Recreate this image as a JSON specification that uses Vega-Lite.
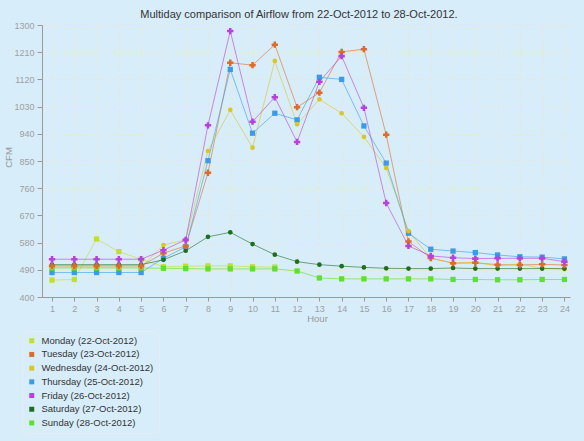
{
  "$schema": "https://vega.github.io/schema/vega-lite/v6.json",
  "autosize": "none",
  "width": 528,
  "height": 272,
  "padding": {"left": 42, "top": 25, "right": 14, "bottom": 144},
  "background": "#d7edfa",
  "title": {"text": "Multiday comparison of Airflow from 22-Oct-2012 to 28-Oct-2012.", "font": "Liberation Sans", "fontSize": 11, "fontWeight": "normal", "color": "#333333", "anchor": "middle", "dx": -7, "offset": 1},
  "config": {
    "view": {"stroke": null},
    "axis": {"labelFont": "Liberation Sans", "titleFont": "Liberation Sans", "labelColor": "#a0a0a0", "titleColor": "#999999", "labelFontSize": 9, "titleFontSize": 9.5, "titleFontWeight": "normal", "domainColor": "#999999", "tickColor": "#999999", "gridColor": "#e9e6da", "gridDash": [4, 3], "gridWidth": 1}
  },
  "data": {"values": [
    {"day": "Monday (22-Oct-2012)", "hour": 1, "cfm": 456}, {"day": "Monday (22-Oct-2012)", "hour": 2, "cfm": 458}, {"day": "Monday (22-Oct-2012)", "hour": 3, "cfm": 592}, {"day": "Monday (22-Oct-2012)", "hour": 4, "cfm": 550}, {"day": "Monday (22-Oct-2012)", "hour": 5, "cfm": 525}, {"day": "Monday (22-Oct-2012)", "hour": 6, "cfm": 500}, {"day": "Monday (22-Oct-2012)", "hour": 7, "cfm": 502}, {"day": "Monday (22-Oct-2012)", "hour": 8, "cfm": 503}, {"day": "Monday (22-Oct-2012)", "hour": 9, "cfm": 503}, {"day": "Monday (22-Oct-2012)", "hour": 10, "cfm": 500}, {"day": "Monday (22-Oct-2012)", "hour": 11, "cfm": 499},
    {"day": "Tuesday (23-Oct-2012)", "hour": 1, "cfm": 503}, {"day": "Tuesday (23-Oct-2012)", "hour": 2, "cfm": 503}, {"day": "Tuesday (23-Oct-2012)", "hour": 3, "cfm": 503}, {"day": "Tuesday (23-Oct-2012)", "hour": 4, "cfm": 503}, {"day": "Tuesday (23-Oct-2012)", "hour": 5, "cfm": 503}, {"day": "Tuesday (23-Oct-2012)", "hour": 6, "cfm": 545}, {"day": "Tuesday (23-Oct-2012)", "hour": 7, "cfm": 569}, {"day": "Tuesday (23-Oct-2012)", "hour": 8, "cfm": 811}, {"day": "Tuesday (23-Oct-2012)", "hour": 9, "cfm": 1175}, {"day": "Tuesday (23-Oct-2012)", "hour": 10, "cfm": 1167}, {"day": "Tuesday (23-Oct-2012)", "hour": 11, "cfm": 1235}, {"day": "Tuesday (23-Oct-2012)", "hour": 12, "cfm": 1028}, {"day": "Tuesday (23-Oct-2012)", "hour": 13, "cfm": 1076}, {"day": "Tuesday (23-Oct-2012)", "hour": 14, "cfm": 1211}, {"day": "Tuesday (23-Oct-2012)", "hour": 15, "cfm": 1220}, {"day": "Tuesday (23-Oct-2012)", "hour": 16, "cfm": 937}, {"day": "Tuesday (23-Oct-2012)", "hour": 17, "cfm": 584}, {"day": "Tuesday (23-Oct-2012)", "hour": 18, "cfm": 529}, {"day": "Tuesday (23-Oct-2012)", "hour": 19, "cfm": 512}, {"day": "Tuesday (23-Oct-2012)", "hour": 20, "cfm": 513}, {"day": "Tuesday (23-Oct-2012)", "hour": 21, "cfm": 507}, {"day": "Tuesday (23-Oct-2012)", "hour": 22, "cfm": 506}, {"day": "Tuesday (23-Oct-2012)", "hour": 23, "cfm": 508}, {"day": "Tuesday (23-Oct-2012)", "hour": 24, "cfm": 506},
    {"day": "Wednesday (24-Oct-2012)", "hour": 1, "cfm": 499}, {"day": "Wednesday (24-Oct-2012)", "hour": 2, "cfm": 499}, {"day": "Wednesday (24-Oct-2012)", "hour": 3, "cfm": 499}, {"day": "Wednesday (24-Oct-2012)", "hour": 4, "cfm": 499}, {"day": "Wednesday (24-Oct-2012)", "hour": 5, "cfm": 499}, {"day": "Wednesday (24-Oct-2012)", "hour": 6, "cfm": 572}, {"day": "Wednesday (24-Oct-2012)", "hour": 7, "cfm": 589}, {"day": "Wednesday (24-Oct-2012)", "hour": 8, "cfm": 883}, {"day": "Wednesday (24-Oct-2012)", "hour": 9, "cfm": 1019}, {"day": "Wednesday (24-Oct-2012)", "hour": 10, "cfm": 894}, {"day": "Wednesday (24-Oct-2012)", "hour": 11, "cfm": 1181}, {"day": "Wednesday (24-Oct-2012)", "hour": 12, "cfm": 972}, {"day": "Wednesday (24-Oct-2012)", "hour": 13, "cfm": 1054}, {"day": "Wednesday (24-Oct-2012)", "hour": 14, "cfm": 1008}, {"day": "Wednesday (24-Oct-2012)", "hour": 15, "cfm": 930}, {"day": "Wednesday (24-Oct-2012)", "hour": 16, "cfm": 827}, {"day": "Wednesday (24-Oct-2012)", "hour": 17, "cfm": 618}, {"day": "Wednesday (24-Oct-2012)", "hour": 18, "cfm": 528}, {"day": "Wednesday (24-Oct-2012)", "hour": 19, "cfm": 512}, {"day": "Wednesday (24-Oct-2012)", "hour": 20, "cfm": 515}, {"day": "Wednesday (24-Oct-2012)", "hour": 21, "cfm": 503}, {"day": "Wednesday (24-Oct-2012)", "hour": 22, "cfm": 509}, {"day": "Wednesday (24-Oct-2012)", "hour": 23, "cfm": 495}, {"day": "Wednesday (24-Oct-2012)", "hour": 24, "cfm": 492},
    {"day": "Thursday (25-Oct-2012)", "hour": 1, "cfm": 481}, {"day": "Thursday (25-Oct-2012)", "hour": 2, "cfm": 481}, {"day": "Thursday (25-Oct-2012)", "hour": 3, "cfm": 481}, {"day": "Thursday (25-Oct-2012)", "hour": 4, "cfm": 481}, {"day": "Thursday (25-Oct-2012)", "hour": 5, "cfm": 481}, {"day": "Thursday (25-Oct-2012)", "hour": 6, "cfm": 528}, {"day": "Thursday (25-Oct-2012)", "hour": 7, "cfm": 566}, {"day": "Thursday (25-Oct-2012)", "hour": 8, "cfm": 851}, {"day": "Thursday (25-Oct-2012)", "hour": 9, "cfm": 1153}, {"day": "Thursday (25-Oct-2012)", "hour": 10, "cfm": 942}, {"day": "Thursday (25-Oct-2012)", "hour": 11, "cfm": 1008}, {"day": "Thursday (25-Oct-2012)", "hour": 12, "cfm": 986}, {"day": "Thursday (25-Oct-2012)", "hour": 13, "cfm": 1127}, {"day": "Thursday (25-Oct-2012)", "hour": 14, "cfm": 1120}, {"day": "Thursday (25-Oct-2012)", "hour": 15, "cfm": 966}, {"day": "Thursday (25-Oct-2012)", "hour": 16, "cfm": 843}, {"day": "Thursday (25-Oct-2012)", "hour": 17, "cfm": 611}, {"day": "Thursday (25-Oct-2012)", "hour": 18, "cfm": 558}, {"day": "Thursday (25-Oct-2012)", "hour": 19, "cfm": 552}, {"day": "Thursday (25-Oct-2012)", "hour": 20, "cfm": 547}, {"day": "Thursday (25-Oct-2012)", "hour": 21, "cfm": 539}, {"day": "Thursday (25-Oct-2012)", "hour": 22, "cfm": 533}, {"day": "Thursday (25-Oct-2012)", "hour": 23, "cfm": 532}, {"day": "Thursday (25-Oct-2012)", "hour": 24, "cfm": 526},
    {"day": "Friday (26-Oct-2012)", "hour": 1, "cfm": 525}, {"day": "Friday (26-Oct-2012)", "hour": 2, "cfm": 525}, {"day": "Friday (26-Oct-2012)", "hour": 3, "cfm": 525}, {"day": "Friday (26-Oct-2012)", "hour": 4, "cfm": 525}, {"day": "Friday (26-Oct-2012)", "hour": 5, "cfm": 525}, {"day": "Friday (26-Oct-2012)", "hour": 6, "cfm": 555}, {"day": "Friday (26-Oct-2012)", "hour": 7, "cfm": 589}, {"day": "Friday (26-Oct-2012)", "hour": 8, "cfm": 968}, {"day": "Friday (26-Oct-2012)", "hour": 9, "cfm": 1280}, {"day": "Friday (26-Oct-2012)", "hour": 10, "cfm": 980}, {"day": "Friday (26-Oct-2012)", "hour": 11, "cfm": 1061}, {"day": "Friday (26-Oct-2012)", "hour": 12, "cfm": 913}, {"day": "Friday (26-Oct-2012)", "hour": 13, "cfm": 1112}, {"day": "Friday (26-Oct-2012)", "hour": 14, "cfm": 1197}, {"day": "Friday (26-Oct-2012)", "hour": 15, "cfm": 1026}, {"day": "Friday (26-Oct-2012)", "hour": 16, "cfm": 711}, {"day": "Friday (26-Oct-2012)", "hour": 17, "cfm": 569}, {"day": "Friday (26-Oct-2012)", "hour": 18, "cfm": 536}, {"day": "Friday (26-Oct-2012)", "hour": 19, "cfm": 530}, {"day": "Friday (26-Oct-2012)", "hour": 20, "cfm": 527}, {"day": "Friday (26-Oct-2012)", "hour": 21, "cfm": 528}, {"day": "Friday (26-Oct-2012)", "hour": 22, "cfm": 528}, {"day": "Friday (26-Oct-2012)", "hour": 23, "cfm": 528}, {"day": "Friday (26-Oct-2012)", "hour": 24, "cfm": 517},
    {"day": "Saturday (27-Oct-2012)", "hour": 1, "cfm": 507}, {"day": "Saturday (27-Oct-2012)", "hour": 2, "cfm": 507}, {"day": "Saturday (27-Oct-2012)", "hour": 3, "cfm": 507}, {"day": "Saturday (27-Oct-2012)", "hour": 4, "cfm": 507}, {"day": "Saturday (27-Oct-2012)", "hour": 5, "cfm": 507}, {"day": "Saturday (27-Oct-2012)", "hour": 6, "cfm": 523}, {"day": "Saturday (27-Oct-2012)", "hour": 7, "cfm": 553}, {"day": "Saturday (27-Oct-2012)", "hour": 8, "cfm": 599}, {"day": "Saturday (27-Oct-2012)", "hour": 9, "cfm": 614}, {"day": "Saturday (27-Oct-2012)", "hour": 10, "cfm": 575}, {"day": "Saturday (27-Oct-2012)", "hour": 11, "cfm": 540}, {"day": "Saturday (27-Oct-2012)", "hour": 12, "cfm": 517}, {"day": "Saturday (27-Oct-2012)", "hour": 13, "cfm": 507}, {"day": "Saturday (27-Oct-2012)", "hour": 14, "cfm": 502}, {"day": "Saturday (27-Oct-2012)", "hour": 15, "cfm": 498}, {"day": "Saturday (27-Oct-2012)", "hour": 16, "cfm": 495}, {"day": "Saturday (27-Oct-2012)", "hour": 17, "cfm": 494}, {"day": "Saturday (27-Oct-2012)", "hour": 18, "cfm": 494}, {"day": "Saturday (27-Oct-2012)", "hour": 19, "cfm": 496}, {"day": "Saturday (27-Oct-2012)", "hour": 20, "cfm": 494}, {"day": "Saturday (27-Oct-2012)", "hour": 21, "cfm": 494}, {"day": "Saturday (27-Oct-2012)", "hour": 22, "cfm": 494}, {"day": "Saturday (27-Oct-2012)", "hour": 23, "cfm": 494}, {"day": "Saturday (27-Oct-2012)", "hour": 24, "cfm": 494},
    {"day": "Sunday (28-Oct-2012)", "hour": 1, "cfm": 496}, {"day": "Sunday (28-Oct-2012)", "hour": 2, "cfm": 496}, {"day": "Sunday (28-Oct-2012)", "hour": 3, "cfm": 496}, {"day": "Sunday (28-Oct-2012)", "hour": 4, "cfm": 496}, {"day": "Sunday (28-Oct-2012)", "hour": 5, "cfm": 496}, {"day": "Sunday (28-Oct-2012)", "hour": 6, "cfm": 495}, {"day": "Sunday (28-Oct-2012)", "hour": 7, "cfm": 494}, {"day": "Sunday (28-Oct-2012)", "hour": 8, "cfm": 493}, {"day": "Sunday (28-Oct-2012)", "hour": 9, "cfm": 493}, {"day": "Sunday (28-Oct-2012)", "hour": 10, "cfm": 493}, {"day": "Sunday (28-Oct-2012)", "hour": 11, "cfm": 493}, {"day": "Sunday (28-Oct-2012)", "hour": 12, "cfm": 486}, {"day": "Sunday (28-Oct-2012)", "hour": 13, "cfm": 463}, {"day": "Sunday (28-Oct-2012)", "hour": 14, "cfm": 460}, {"day": "Sunday (28-Oct-2012)", "hour": 15, "cfm": 460}, {"day": "Sunday (28-Oct-2012)", "hour": 16, "cfm": 460}, {"day": "Sunday (28-Oct-2012)", "hour": 17, "cfm": 460}, {"day": "Sunday (28-Oct-2012)", "hour": 18, "cfm": 460}, {"day": "Sunday (28-Oct-2012)", "hour": 19, "cfm": 458}, {"day": "Sunday (28-Oct-2012)", "hour": 20, "cfm": 458}, {"day": "Sunday (28-Oct-2012)", "hour": 21, "cfm": 457}, {"day": "Sunday (28-Oct-2012)", "hour": 22, "cfm": 457}, {"day": "Sunday (28-Oct-2012)", "hour": 23, "cfm": 458}, {"day": "Sunday (28-Oct-2012)", "hour": 24, "cfm": 458}
  ]},
  "encoding": {
    "x": {"field": "hour", "type": "quantitative", "scale": {"domain": [0.55, 24.25], "nice": false, "zero": false},
      "axis": {"title": "Hour", "values": [1,2,3,4,5,6,7,8,9,10,11,12,13,14,15,16,17,18,19,20,21,22,23,24], "format": "d", "tickSize": 4, "labelPadding": 3, "titleX": 275, "titleY": 21, "titleBaseline": "middle", "titleAnchor": "start", "titleAlign": "center"}},
    "y": {"field": "cfm", "type": "quantitative", "scale": {"domain": [400, 1300], "nice": false, "zero": false},
      "axis": {"title": "CFM", "values": [400,490,580,670,760,850,940,1030,1120,1210,1300], "format": "d", "tickSize": 5, "labelPadding": 3, "titleX": -34, "titleY": 132, "titleAnchor": "start", "titleAlign": "center", "titleBaseline": "middle"}},
    "color": {"field": "day", "type": "nominal", "sort": null,
      "scale": {"domain": ["Monday (22-Oct-2012)", "Tuesday (23-Oct-2012)", "Wednesday (24-Oct-2012)", "Thursday (25-Oct-2012)", "Friday (26-Oct-2012)", "Saturday (27-Oct-2012)", "Sunday (28-Oct-2012)"],
                "range": ["#c4e024", "#e06a28", "#d9c81f", "#3a9be8", "#bb3ee0", "#1f6e1f", "#5fe02a"]},
      "legend": {"title": null, "orient": "none", "legendX": -20, "legendY": 306, "symbolType": "square", "symbolSize": 25, "symbolStrokeWidth": 0, "symbolOpacity": 1, "labelFont": "Liberation Sans", "labelFontSize": 9.5, "labelColor": "#333333", "rowPadding": 2.7, "labelOffset": 5, "padding": 5, "fillColor": "#d7edfa", "strokeColor": "#e3edf3", "cornerRadius": 5,
        "encode": {"symbols": {"update": {"shape": {"value": "square"}, "size": {"value": 25}, "opacity": {"value": 1}, "fillOpacity": {"value": 1}}}}}}
  },
  "layer": [
    {"mark": {"type": "line", "strokeWidth": 1, "opacity": 0.6}},
    {"transform": [{"filter": {"field": "day", "oneOf": ["Monday (22-Oct-2012)", "Thursday (25-Oct-2012)", "Sunday (28-Oct-2012)"]}}],
     "mark": {"type": "point", "shape": "square", "size": 28, "filled": true, "opacity": 1, "strokeWidth": 0}},
    {"transform": [{"filter": {"field": "day", "oneOf": ["Wednesday (24-Oct-2012)", "Saturday (27-Oct-2012)"]}}],
     "mark": {"type": "point", "shape": "circle", "size": 22, "filled": true, "opacity": 1, "strokeWidth": 0}},
    {"transform": [{"filter": {"field": "day", "oneOf": ["Tuesday (23-Oct-2012)", "Friday (26-Oct-2012)"]}}],
     "mark": {"type": "point", "shape": "cross", "size": 40, "filled": true, "opacity": 1, "strokeWidth": 0}}
  ]
}
